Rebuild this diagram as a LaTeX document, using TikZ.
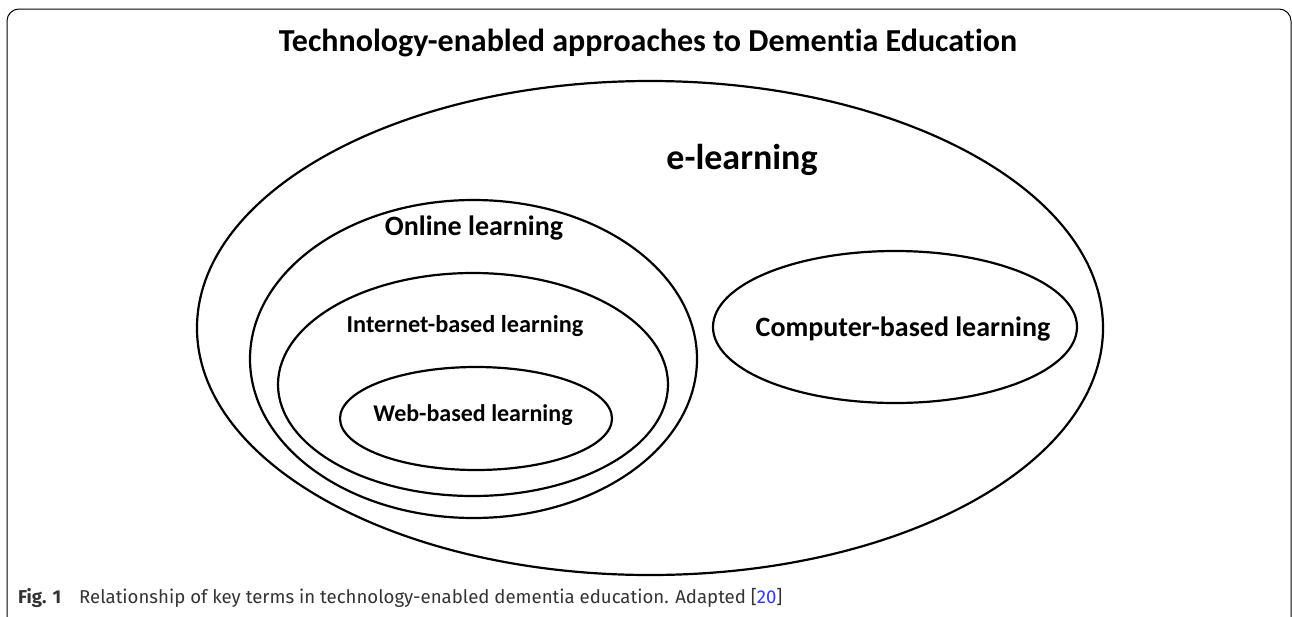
\documentclass[tikz,border=0pt]{standalone}
\usepackage{fontspec}
\setmainfont{Carlito}[Ligatures=NoCommon]
\newfontfamily\capfont{Fira Sans}
\usetikzlibrary{shapes.geometric}
\definecolor{capgray}{HTML}{333333}
\definecolor{refblue}{HTML}{3535F0}
\begin{document}
\begin{tikzpicture}[x=1pt,y=-1pt,
    ring/.style={draw,ellipse,line width=2.2pt,inner sep=0pt},
    term/.style={font=\bfseries\fontsize{#1}{#1}\selectfont,inner sep=0pt}]
  \useasboundingbox (0,0) rectangle (1292,616);
  % outer frame
  \begin{scope}
    \clip (0,0) rectangle (1292,616);
    \draw[line width=1pt,rounded corners=12pt] (7,9) rectangle (1291,630);
  \end{scope}
  % the nested sets
  \node[ring,minimum width=906pt,minimum height=494pt] (elearn) at (650,328) {};
  \node[ring,minimum width=447pt,minimum height=318pt] (online) at (473.5,359) {};
  \node[ring,minimum width=390pt,minimum height=223pt] (internet) at (473,384.5) {};
  \node[ring,minimum width=272pt,minimum height=103pt] (web) at (476,418.5) {};
  \node[ring,minimum width=364pt,minimum height=152pt] (computer) at (895,327) {};
  % labels
  \node[term=32] (title) at (648,43) {Technology-enabled approaches to Dementia Education};
  \node[term=36] (elearnlbl) at (742,160) {e-learning};
  \node[term=28] (onlinelbl) at (474,228) {Online learning};
  \node[term=24.3] (internetlbl) at (465,326) {Internet-based learning};
  \node[term=24] (weblbl) at (473,415) {Web-based learning};
  \node[term=28] (computerlbl) at (903,329) {Computer-based learning};
  % caption
  \node[anchor=base west,font=\capfont\fontsize{18.6}{18.6}\selectfont,text=capgray,inner sep=0pt] (caption) at (18,603)
    {\textbf{Fig. 1}\hspace{18pt}Relationship of key terms in technology-enabled dementia education. Adapted [{\color{refblue}20}]};
\end{tikzpicture}
\end{document}
